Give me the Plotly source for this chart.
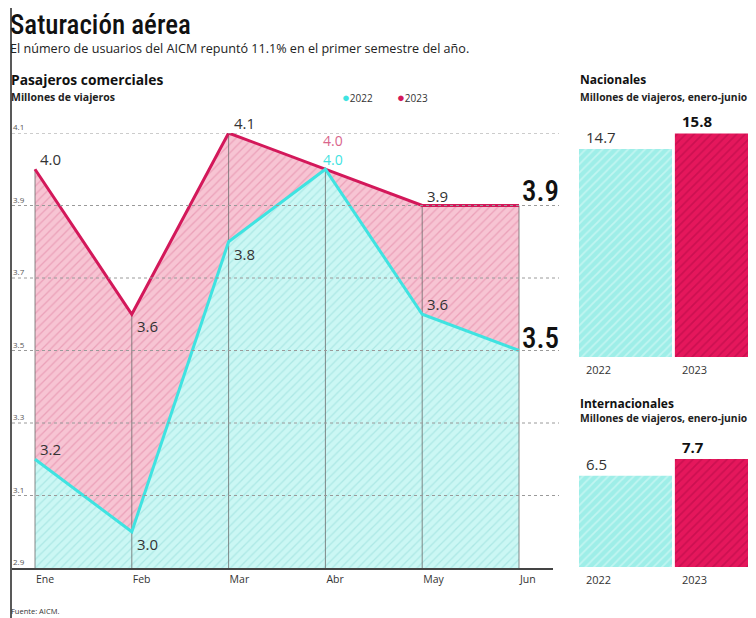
import plotly.graph_objects as go

# ---------------- data ----------------
months = ["Ene", "Feb", "Mar", "Abr", "May", "Jun"]
pax_2022 = [3.2, 3.0, 3.8, 4.0, 3.6, 3.5]
pax_2023 = [4.0, 3.6, 4.1, 4.0, 3.9, 3.9]
y_ticks = [2.9, 3.1, 3.3, 3.5, 3.7, 3.9, 4.1]
years = ["2022", "2023"]
nacionales = [14.7, 15.8]
internacionales = [6.5, 7.7]

# label placement (style only)
pos_2023 = ["above", "below", "above", "abr_top", "above", "big"]
pos_2022 = ["above", "below", "below", "abr_low", "above", "big"]

# page is 756x618; the browser adds an 8px body margin, so the figure is 748x610
PAGE_W, PAGE_H = 756, 618
OFF = 8
FW, FH = PAGE_W - OFF, PAGE_H - OFF


def px(x):
    return (x - OFF) / FW


def py(y):
    return 1 - (y - OFF) / FH


PINK_LINE = "#d3185a"
CYAN_LINE = "#3fe3e1"
TXT = "#333333"
FONT = "Open Sans"
NARROW = "Roboto Condensed, DejaVu Sans Condensed, Roboto, sans-serif"

xi = list(range(len(months)))
ymin = y_ticks[0]

fig = go.Figure()

# fills
fig.add_trace(go.Scatter(
    x=xi, y=pax_2023, mode="lines", line=dict(width=0, color=PINK_LINE),
    fill="tozeroy", fillcolor="#f5bccd",
    fillpattern=dict(shape="/", fgcolor="#e0809f", bgcolor="#f7c4d3", size=6, solidity=0.22),
    hoverinfo="skip", showlegend=False))
fig.add_trace(go.Scatter(
    x=xi, y=pax_2022, mode="lines", line=dict(width=0, color=CYAN_LINE),
    fill="tozeroy", fillcolor="#c6f6f3",
    fillpattern=dict(shape="/", fgcolor="#8fd9d5", bgcolor="#cbf7f4", size=6, solidity=0.22),
    hoverinfo="skip", showlegend=False))

# vertical month lines inside the filled area
vx, vy = [], []
for i, v in zip(xi, pax_2023):
    vx += [i, i, None]
    vy += [ymin, v, None]
fig.add_trace(go.Scatter(x=vx, y=vy, mode="lines", line=dict(color="#6b6b6b", width=0.8),
                         hoverinfo="skip", showlegend=False))

# lines
fig.add_trace(go.Scatter(x=xi, y=pax_2023, mode="lines", line=dict(color=PINK_LINE, width=3),
                         showlegend=False))
fig.add_trace(go.Scatter(x=xi, y=pax_2022, mode="lines", line=dict(color=CYAN_LINE, width=3),
                         showlegend=False))

# bars
bar_bg = ["#9eeee8", "#e5175c"]
bar_fg = ["#e4fbf9", "#b10a45"]
for ax, vals in (("2", nacionales), ("3", internacionales)):
    for i, v in enumerate(vals):
        fig.add_trace(go.Bar(
            x=[i], y=[v], width=0.97, xaxis="x" + ax, yaxis="y" + ax,
            marker=dict(color=bar_bg[i], line=dict(width=0),
                        pattern=dict(shape="/", fgcolor=bar_fg[i], bgcolor=bar_bg[i],
                                     size=6, solidity=0.3)),
            hoverinfo="skip", showlegend=False))

ann = []


def add_point_label(i, v, pos, color):
    txt = f"{v:.1f}"
    font = dict(family=FONT, size=15, color=color)
    base = dict(x=i, y=v, xref="x", yref="y", text=txt, showarrow=False, xanchor="left")
    if pos == "big":
        base.update(yanchor="middle", xshift=1, yshift=15 if v > 3.7 else 13,
                    font=dict(family=NARROW, size=29, color="#111111", weight=500))
    elif pos == "above":
        base.update(yanchor="bottom", xshift=3, yshift=-2, font=font)
    elif pos == "abr_top":
        base.update(yanchor="bottom", xshift=-3, yshift=18, borderpad=0,
                    font=dict(family=FONT, size=14, color=color))
    elif pos == "abr_low":
        base.update(yanchor="bottom", xshift=-3, yshift=-1, borderpad=0,
                    font=dict(family=FONT, size=14, color=color))
    else:
        base.update(yanchor="top", xshift=3, yshift=0, font=font)
    ann.append(base)


for i, (v, p) in enumerate(zip(pax_2023, pos_2023)):
    add_point_label(i, v, p, "#d9658c" if p == "abr_top" else TXT)
for i, (v, p) in enumerate(zip(pax_2022, pos_2022)):
    add_point_label(i, v, p, CYAN_LINE if p == "abr_low" else TXT)

# bar labels
for ax, vals in (("2", nacionales), ("3", internacionales)):
    for i, v in enumerate(vals):
        bold = i == 1
        ann.append(dict(x=i - 0.43, y=v, xref="x" + ax, yref="y" + ax,
                        text=f"<b>{v:.1f}</b>" if bold else f"{v:.1f}", showarrow=False,
                        xanchor="left", yanchor="bottom", yshift=0,
                        font=dict(family=FONT, size=15, color="#111" if bold else TXT)))
        ann.append(dict(x=i - 0.43, y=0, xref="x" + ax, yref="y" + ax, text=years[i],
                        showarrow=False, xanchor="left", yanchor="top", yshift=-3,
                        font=dict(family=FONT, size=11, color=TXT)))

# y tick labels (sit just above each gridline)
for t in y_ticks:
    ann.append(dict(x=px(11), y=t, xref="paper", yref="y", text=f"{t:.1f}", showarrow=False,
                    xanchor="left", yanchor="bottom", yshift=-1,
                    font=dict(family=FONT, size=8, color="#555")))


def txt(x, y, text, size, color=TXT, family=FONT, anchor="middle", weight=None, pad=1):
    f = dict(family=family, size=size, color=color)
    if weight:
        f["weight"] = weight
    ann.append(dict(x=px(x), y=py(y), xref="paper", yref="paper", text=text, showarrow=False,
                    xanchor="left", yanchor=anchor, borderpad=pad, font=f))


txt(9, 8, "Saturación aérea", 27, "#111111", NARROW, anchor="top", weight=500, pad=0)
txt(9, 48.5, "El número de usuarios del AICM repuntó 11.1% en el primer semestre del año.", 12.6,
    "#222", pad=0)
txt(9, 80, "<b>Pasajeros comerciales</b>", 13.8, "#111")
txt(9, 97, "<b>Millones de viajeros</b>", 10.5, "#222")
txt(340, 97, f"<span style='color:{CYAN_LINE};font-size:13px'>●</span>{years[0]}", 10, "#333")
txt(395, 97, f"<span style='color:{PINK_LINE};font-size:13px'>●</span>{years[1]}", 10, "#333")
txt(578, 80, "<b>Nacionales</b>", 12, "#111")
txt(578, 97, "<b>Millones de viajeros, enero-junio</b>", 10.3, "#222")
txt(578, 403, "<b>Internacionales</b>", 12, "#111")
txt(578, 418, "<b>Millones de viajeros, enero-junio</b>", 10.3, "#222")
txt(9, 611, "Fuente: AICM.", 7.5, "#333")

shapes = []
for t in y_ticks[1:]:
    shapes.append(dict(type="line", xref="paper", yref="y", x0=px(12), x1=px(559), y0=t, y1=t,
                       line=dict(color="#9a9a9a", width=1, dash="dot"), layer="above"))
# left border rule
shapes.append(dict(type="line", xref="paper", yref="paper", x0=px(11), x1=px(11), y0=0, y1=1,
                   line=dict(color="#222", width=1.5)))

# main axis geometry: Ene at 35px, Jun at 519px, domain 12..553
step = (519 - 35) / (len(months) - 1)
x_lo = -(35 - 12) / step
x_hi = (len(months) - 1) + (553 - 519) / step

bar_unit = 93 / 0.97
bx_lo = -0.485
bx_hi = bx_lo + (PAGE_W - 579) / bar_unit

fig.update_layout(
    width=FW, height=FH, autosize=False,
    margin=dict(l=0, r=0, t=0, b=0),
    paper_bgcolor="white", plot_bgcolor="white",
    barmode="overlay",
    annotations=ann, shapes=shapes,
    xaxis=dict(domain=[px(12), px(553)], range=[x_lo, x_hi], tickvals=xi, ticktext=months,
               showgrid=False, zeroline=False, showline=True, linecolor="#444", linewidth=2,
               ticks="", ticklabelposition="outside right",
               tickfont=dict(family=FONT, size=10.5, color=TXT), fixedrange=True),
    yaxis=dict(domain=[py(568), py(133)], range=[y_ticks[0], y_ticks[-1]],
               showgrid=False, zeroline=False, showline=False, showticklabels=False, ticks=""),
    xaxis2=dict(domain=[px(579), 1], range=[bx_lo, bx_hi], visible=False, anchor="y2"),
    yaxis2=dict(domain=[py(357), py(130.6)], range=[0, 16], visible=False, anchor="x2"),
    xaxis3=dict(domain=[px(579), 1], range=[bx_lo, bx_hi], visible=False, anchor="y3"),
    yaxis3=dict(domain=[py(567), py(454.7)], range=[0, 8], visible=False, anchor="x3"),
)

fig.write_html("out.html")
